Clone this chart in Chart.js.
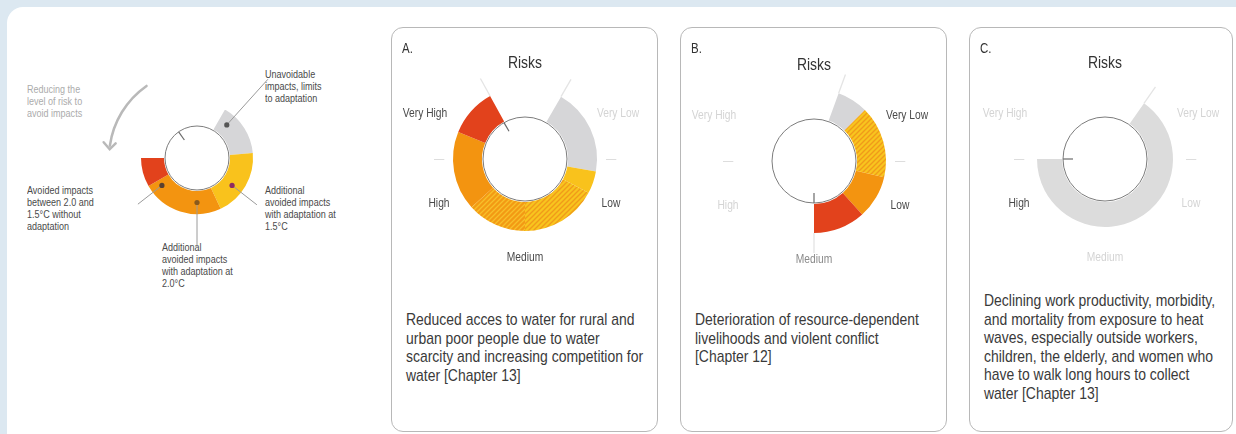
<!DOCTYPE html>
<html>
<head>
<meta charset="utf-8">
<script src="https://cdn.jsdelivr.net/npm/chart.js@4.4.0/dist/chart.umd.min.js"></script>
<style>
  body { margin: 0; width: 1236px; height: 434px; overflow: hidden; position: relative; background: #dce8f1;
         font-family: 'Liberation Sans', Arial, sans-serif; color: #444; }
  #sheet { position: absolute; left: 7px; top: 7px; right: 0; bottom: 0; background: #fff; border-top-left-radius: 16px; }
  .box { position: absolute; top: 27px; height: 405px; border: 1.5px solid #b8b8b8; border-radius: 12px; box-sizing: border-box; background: #fff; }
  /* the figure uses a condensed face; squeeze Liberation Sans to match */
  .note { position: absolute; font-size: 11px; line-height: 12px; color: #4a4a4a; white-space: nowrap; transform: scaleX(0.82); transform-origin: 0 0; }
  .letter { position: absolute; font-size: 14px; color: #333; transform: scaleX(0.82); transform-origin: 0 0; }
  .desc { position: absolute; font-size: 17px; line-height: 18.6px; color: #3a3a3a; white-space: nowrap; transform: scaleX(0.82); transform-origin: 0 0; }
  .rl { position: absolute; font-size: 12.5px; white-space: nowrap; transform: translate(-50%, -50%) scaleX(0.82); }
  canvas { position: absolute; }
</style>
</head>
<body>
<div id="sheet"></div>
<div class="box" style="left:391px; width:267px"></div>
<div class="box" style="left:680px; width:267px"></div>
<div class="box" style="left:969px; width:264px"></div>

<div class="note" style="left:27px; top:83px; color:#ababab">Reducing the<br>level of risk to<br>avoid impacts</div>
<div class="note" style="left:265px; top:68px">Unavoidable<br>impacts, limits<br>to adaptation</div>
<div class="note" style="left:27px; top:184px">Avoided impacts<br>between 2.0 and<br>1.5°C without<br>adaptation</div>
<div class="note" style="left:265px; top:184px">Additional<br>avoided impacts<br>with adaptation at<br>1.5°C</div>
<div class="note" style="left:162px; top:241px">Additional<br>avoided impacts<br>with adaptation at<br>2.0°C</div>

<canvas id="ex" width="394" height="316" style="left:0; top:0"></canvas>
<canvas id="pa" width="250" height="250" style="left:400px; top:34px"></canvas>
<canvas id="pb" width="250" height="250" style="left:689px; top:36px"></canvas>
<canvas id="pc" width="250" height="250" style="left:980px; top:34px"></canvas>

<script>
// risk scale, clockwise from the upper right
const riskLevels = ['Very Low', 'Low', 'Medium', 'High', 'Very High'];

// explanatory ring (degrees clockwise from 12 o'clock, gaps included)
const exampleParts = ['', 'Unavoidable impacts, limits to adaptation', 'Additional avoided impacts with adaptation at 1.5°C',
  'Additional avoided impacts with adaptation at 2.0°C', 'Avoided impacts between 2.0 and 1.5°C without adaptation', ''];
const exampleSpans = [30, 55, 70, 85, 30, 90];
const exampleFills = ['none', 'grey', 'yellow', 'orange', 'red', 'none'];
const exampleMarkers = [42, 128, 180, 232];

// panel rings
const panelASpans = [30, 70, 18, 62, 48, 64, 39, 29];
const panelAFills = ['none', 'grey', 'yellow', 'hatchYellow', 'hatchOrange', 'orange', 'red', 'none'];
const panelBSpans = [20, 25, 58, 35, 42, 180];
const panelBFills = ['none', 'grey', 'hatchYellow', 'orange', 'red', 'none'];
const panelCSpans = [35, 235, 90];
const panelCFills = ['none', 'greyLight', 'none'];

const panelLetters = ['A.', 'B.', 'C.'];
const panelNeedles = [330, 180, 270];
// label tone per risk level (Very Low .. Very High)
const panelTones = [
  ['faint', 'dark', 'dark', 'dark', 'dark'],
  ['dark', 'dark', 'mid', 'faint', 'faint'],
  ['faint', 'faint', 'faint', 'dark', 'faint']
];
const panelTexts = [
  ['Reduced acces to water for rural and', 'urban poor people due to water', 'scarcity and increasing competition for', 'water [Chapter 13]'],
  ['Deterioration of resource-dependent', 'livelihoods and violent conflict', '[Chapter 12]'],
  ['Declining work productivity, morbidity,', 'and mortality from exposure to heat', 'waves, especially outside workers,',
   'children, the elderly, and women who', 'have to walk long hours to collect', 'water [Chapter 13]']
];

function hatch(base, stripe) {
  const c = document.createElement('canvas');
  c.width = c.height = 5;
  const g = c.getContext('2d');
  g.fillStyle = base;
  g.fillRect(0, 0, 5, 5);
  g.strokeStyle = stripe;
  g.lineWidth = 1.3;
  g.beginPath();
  g.moveTo(0, 5); g.lineTo(5, 0);
  g.moveTo(-1, 1); g.lineTo(1, -1);
  g.moveTo(4, 6); g.lineTo(6, 4);
  g.stroke();
  return g.createPattern(c, 'repeat');
}

const fills = {
  none: 'rgba(0,0,0,0)',
  grey: '#d6d6d8',
  greyLight: '#dcdcdc',
  yellow: '#f9c21c',
  orange: '#f39410',
  red: '#e2421c',
  hatchYellow: hatch('#f8c51e', '#f09a1a'),
  hatchOrange: hatch('#f39a14', '#f7c02a')
};

const rad = d => (d - 90) * Math.PI / 180;

// inner disc, needle, spokes, marker dots, arrow
const ringDecor = {
  id: 'ringDecor',
  afterDatasetsDraw(chart, args, o) {
    const arc = chart.getDatasetMeta(0).data[0];
    const { x, y, innerRadius: ri, outerRadius: ro } = arc.getProps(['x', 'y', 'innerRadius', 'outerRadius'], true);
    const ctx = chart.ctx;
    const at = (deg, r) => [x + r * Math.cos(rad(deg)), y + r * Math.sin(rad(deg))];
    ctx.save();
    (o.spokes || []).forEach(d => {
      const a = at(d, ro), b = at(d, ro + 20);
      ctx.strokeStyle = '#e4e4e4'; ctx.lineWidth = 1.3;
      ctx.beginPath(); ctx.moveTo(a[0], a[1]); ctx.lineTo(b[0], b[1]); ctx.stroke();
    });
    ctx.beginPath();
    ctx.arc(x, y, ri - 1, 0, Math.PI * 2);
    ctx.fillStyle = '#fff'; ctx.fill();
    ctx.strokeStyle = '#7c7c7c'; ctx.lineWidth = 1; ctx.stroke();
    const n1 = at(o.needle, ri - 1), n2 = at(o.needle, ri - 11);
    ctx.strokeStyle = '#6a6a6a'; ctx.lineWidth = 1.2;
    ctx.beginPath(); ctx.moveTo(n1[0], n1[1]); ctx.lineTo(n2[0], n2[1]); ctx.stroke();
    (o.markers || []).forEach(m => {
      const p = at(m.deg, (ri + ro) / 2), q = at(m.deg, ro + m.len);
      ctx.strokeStyle = '#9a9a9a'; ctx.lineWidth = 1;
      ctx.beginPath(); ctx.moveTo(p[0], p[1]); ctx.lineTo(q[0], q[1]); ctx.stroke();
      ctx.fillStyle = m.color;
      ctx.beginPath(); ctx.arc(p[0], p[1], 2.6, 0, Math.PI * 2); ctx.fill();
    });
    if (o.arrow) {
      const r = ro + 32;
      ctx.strokeStyle = '#b9b9b9'; ctx.lineWidth = 2.5; ctx.lineCap = 'round';
      ctx.beginPath(); ctx.arc(x, y, r, rad(325), rad(278), true); ctx.stroke();
      const tip = at(277, r);
      ctx.beginPath();
      ctx.moveTo(tip[0] - 6, tip[1] - 5); ctx.lineTo(tip[0], tip[1] + 2); ctx.lineTo(tip[0] + 6, tip[1] - 4);
      ctx.stroke();
    }
    ctx.restore();
  }
};

function ring(id, labels, spans, kinds, radius, inner, decor) {
  return new Chart(document.getElementById(id), {
    type: 'doughnut',
    data: {
      labels: labels,
      datasets: [{ data: spans, backgroundColor: kinds.map(k => fills[k]), borderWidth: 0, hoverOffset: 0 }]
    },
    options: {
      responsive: false,
      animation: false,
      devicePixelRatio: 1,
      radius: radius,
      cutout: (inner / radius * 100) + '%',
      rotation: 0,
      events: [],
      layout: { padding: 0 },
      plugins: { legend: { display: false }, tooltip: { enabled: false }, ringDecor: decor }
    },
    plugins: [ringDecor]
  });
}

const markerColors = ['#555555', '#8e2b62', '#8a5a1c', '#5a4030'];
const markerLens = [50, 20, 34, 19];
ring('ex', exampleParts, exampleSpans, exampleFills, 56, 33, {
  needle: 325,
  arrow: true,
  markers: exampleMarkers.map((d, i) => ({ deg: d, len: markerLens[i], color: markerColors[i] }))
});

const panelSpans = [panelASpans, panelBSpans, panelCSpans];
const panelFills = [panelAFills, panelBFills, panelCFills];
const panelRadius = [72, 72, 68];
['pa', 'pb', 'pc'].forEach((id, i) => {
  const spans = panelSpans[i];
  const start = spans[0];
  const end = 360 - spans[spans.length - 1];
  const chart = ring(id, panelFills[i], spans, panelFills[i], panelRadius[i], 43,
    { needle: panelNeedles[i], spokes: i === 2 ? [start] : [start, end] });

  // labels around the ring, placed from the chart centre
  const cv = chart.canvas;
  const arc = chart.getDatasetMeta(0).data[0];
  const cx = cv.offsetLeft + arc.x, cy = cv.offsetTop + arc.y;
  const place = (txt, deg, r, color, size) => {
    const d = document.createElement('div');
    d.className = 'rl';
    d.textContent = txt;
    d.style.left = (cx + r * Math.cos(rad(deg))) + 'px';
    d.style.top = (cy + r * Math.sin(rad(deg))) + 'px';
    d.style.color = color;
    if (size) d.style.fontSize = size;
    document.body.appendChild(d);
  };
  const tone = { dark: '#4a4a4a', mid: '#8a8a8a', faint: '#d4d4d4' };
  const spots = [[64, 104], [117, 97], [180, 98], [243, 97], [295, 110]];
  riskLevels.forEach((lv, k) => place(lv, spots[k][0], spots[k][1], tone[panelTones[i][k]]));
  place('Risks', 0, 96, '#333', '17px');
  place('—', 90, 86, '#d8d8d8');
  place('—', 270, 86, '#d8d8d8');

  const box = document.querySelectorAll('.box')[i];
  const letter = document.createElement('div');
  letter.className = 'letter';
  letter.textContent = panelLetters[i];
  letter.style.left = (box.offsetLeft + 11) + 'px';
  letter.style.top = '40px';
  document.body.appendChild(letter);

  const desc = document.createElement('div');
  desc.className = 'desc';
  desc.innerHTML = panelTexts[i].join('<br>');
  desc.style.left = (box.offsetLeft + 15) + 'px';
  desc.style.top = (i === 2 ? 292 : 311) + 'px';
  document.body.appendChild(desc);
});
</script>
</body>
</html>
